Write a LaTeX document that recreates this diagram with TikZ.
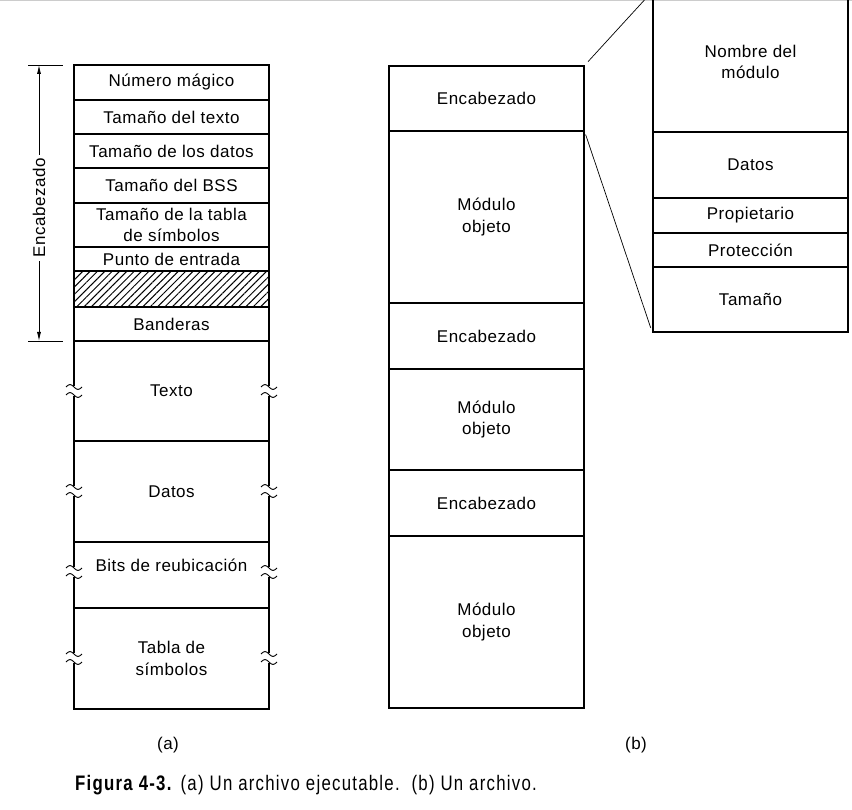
\documentclass[tikz,border=0pt]{standalone}
\usepackage{fontspec}
\setmainfont{Liberation Sans}[LetterSpace=3]
\newfontfamily\capfont{Liberation Sans}[FakeStretch=0.8, LetterSpace=6]
\usetikzlibrary{patterns.meta, arrows.meta}
\tikzset{
  cell/.style={draw, line width=1.3pt, minimum width=195pt, inner sep=0pt, align=center, font=\fontsize{17}{21.5}\selectfont},
  txt/.style={inner sep=0pt, align=center, font=\fontsize{17}{21.5}\selectfont},
  thinline/.style={line width=0.8pt},
  brk/.pic={
    \fill[white] (-9,-5) rectangle (9,5);
    \draw[line width=0.9pt] (-8,-4) sin (-4,-6.5) cos (0,-4) sin (4,-1.5) cos (8,-4);
    \draw[line width=0.9pt] (-8,4) sin (-4,1.5) cos (0,4) sin (4,6.5) cos (8,4);
  }
}
\begin{document}
\begin{tikzpicture}[x=1pt,y=-1pt]
\useasboundingbox (0,0) rectangle (852,810);
\clip (0,0) rectangle (852,810);
\draw[black!20, line width=1pt] (0,0.5) -- (852,0.5);

% ---------- (a) ----------
\node[cell, minimum height=35pt] (a1) at (171.5,82.5) {Número mágico};
\node[cell, minimum height=34pt] (a2) at (171.5,117) {Tamaño del texto};
\node[cell, minimum height=34pt] (a3) at (171.5,151) {Tamaño de los datos};
\node[cell, minimum height=35pt] (a4) at (171.5,185.5) {Tamaño del BSS};
\node[cell, minimum height=44pt] (a5) at (171.5,225) {Tamaño de la tabla\\de símbolos};
\node[cell, minimum height=24pt] (a6) at (171.5,259) {Punto de entrada};
\node[cell, minimum height=36pt, pattern={Lines[angle=45,distance=5.2pt,line width=1pt]}] (a7) at (171.5,289) {};
\node[cell, minimum height=34pt] (a8) at (171.5,324) {Banderas};
\node[cell, minimum height=100pt] (a9) at (171.5,391) {Texto};
\node[cell, minimum height=101pt] (a10) at (171.5,491.5) {Datos};
\node[cell, minimum height=66pt] (a11) at (171.5,575) {};
\node[txt] (a11t) at (171.5,565) {Bits de reubicación};
\node[cell, minimum height=101pt] (a12) at (171.5,658.5) {Tabla de\\símbolos};

\foreach \yy in {391,491,572,658}{
  \pic at (74,\yy) {brk};
  \pic at (269,\yy) {brk};
}

% Encabezado dimension
\coordinate (t1) at (28,65); \coordinate (t2) at (63,65);
\coordinate (b1) at (28,341); \coordinate (b2) at (63,341);
\coordinate (at) at (39,65); \coordinate (ab) at (39,341);
\draw[thinline] (t1) -- (t2);
\draw[thinline] (b1) -- (b2);
\draw[thinline, {Latex[length=9pt,width=4pt]}-{Latex[length=9pt,width=4pt]}] (at) -- (ab);
\node[txt, rotate=90, fill=white, inner sep=3pt] (enc) at (39,208) {Encabezado};

\node[txt] (la) at (168,745) {(a)};

% ---------- (b) ----------
\node[cell, minimum height=65pt] (m1) at (486.5,98.5) {Encabezado};
\node[cell, minimum height=172pt] (m2) at (486.5,217) {Módulo\\objeto};
\node[cell, minimum height=66pt] (m3) at (486.5,336) {Encabezado};
\node[cell, minimum height=101pt] (m4) at (486.5,419.5) {Módulo\\objeto};
\node[cell, minimum height=66pt] (m5) at (486.5,503) {Encabezado};
\node[cell, minimum height=172pt] (m6) at (486.5,622) {Módulo\\objeto};
\node[txt] (lb) at (636,745) {(b)};

% ---------- expanded header ----------
\node[cell, minimum height=140pt] (r1) at (750.5,62) {Nombre del\\módulo};
\node[cell, minimum height=66pt] (r2) at (750.5,165) {Datos};
\node[cell, minimum height=35pt] (r3) at (750.5,215.5) {Propietario};
\node[cell, minimum height=34pt] (r4) at (750.5,250) {Protección};
\node[cell, minimum height=65pt] (r5) at (750.5,299.5) {Tamaño};

\draw[line width=0.7pt, shorten <=5pt, shorten >=5pt] (m1.north east) -- (r1.north west);
\draw[line width=0.7pt, shorten <=3pt, shorten >=5pt] (m1.south east) -- (r5.south west);

% ---------- caption ----------
\node[anchor=west, inner sep=0pt, font=\capfont\fontsize{21}{24}\selectfont] (cap) at (75,785)
  {\textbf{Figura 4-3.} (a) Un archivo ejecutable.\ \ (b) Un archivo.};
\end{tikzpicture}
\end{document}
